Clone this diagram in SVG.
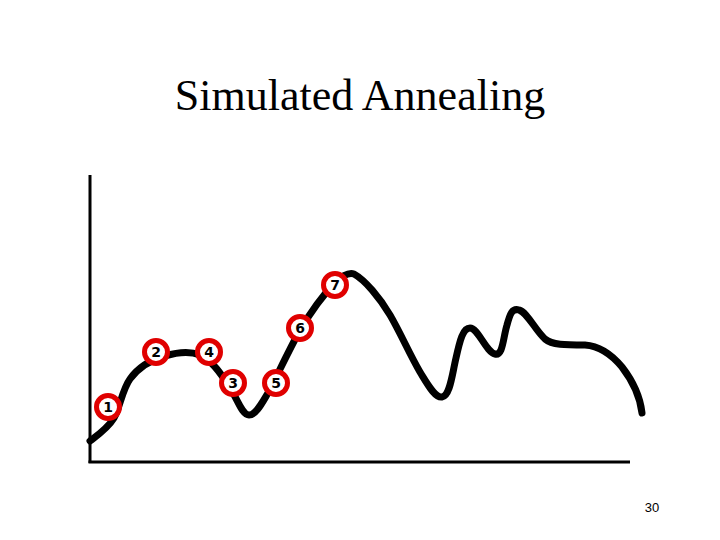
<svg xmlns="http://www.w3.org/2000/svg" width="720" height="540" viewBox="0 0 720 540">
<style>
.axis{stroke:#000;stroke-width:3;fill:none}
.curve{stroke:#000;stroke-width:7;fill:none;stroke-linecap:round;stroke-linejoin:round}
.mark circle{fill:#fff;stroke:#e00000;stroke-width:5}
.mark text{font-family:"DejaVu Sans",sans-serif;font-size:14px;font-weight:bold;fill:#000;text-anchor:middle}
</style>
<rect width="720" height="540" fill="#fff"/>
<text x="360" y="110" font-family="Liberation Serif, serif" font-size="44" text-anchor="middle">Simulated Annealing</text>
<g id="axes">
<line class="axis" x1="90" y1="175" x2="90" y2="463"/>
<line class="axis" x1="88.5" y1="462" x2="630" y2="462"/>
</g>
<g id="connectors">
<path class="curve" d="M90,441 C98,435 108,428 114,418 C120,408 122,390 130,379 C138,368 150,360 165,356 C178,352 190,351 200,355 C212,360 222,375 230,388 C238,400 242,415 249,415 C256,415 262,403 268,393 C276,378 288,352 299,332 C310,313 322,296 335,283 C342,276 348,272 354,274 C365,280 380,298 390,315 C400,332 410,355 420,372 C428,385 435,398 442,397 C450,396 452,375 456,358 C460,340 463,328 470,328 C478,328 486,352 495,354 C503,356 503,338 507,325 C510,314 512,308 519,310 C527,312 535,330 545,339 C552,345 565,345 585,345 C600,346 612,355 622,367 C632,380 640,395 642,413"/>
</g>
<g id="n1" class="mark"><circle cx="108" cy="407" r="11.5"/><text x="108" y="412">1</text></g>
<g id="n2" class="mark"><circle cx="156" cy="352" r="11.5"/><text x="156" y="357">2</text></g>
<g id="n3" class="mark"><circle cx="233" cy="383" r="11.5"/><text x="233" y="388">3</text></g>
<g id="n4" class="mark"><circle cx="209" cy="352" r="11.5"/><text x="209" y="357">4</text></g>
<g id="n5" class="mark"><circle cx="276" cy="383" r="11.5"/><text x="276" y="388">5</text></g>
<g id="n6" class="mark"><circle cx="300" cy="328" r="11.5"/><text x="300" y="333">6</text></g>
<g id="n7" class="mark"><circle cx="335" cy="285" r="11.5"/><text x="335" y="290">7</text></g>
<text x="652" y="512" font-family="Liberation Sans, sans-serif" font-size="13" text-anchor="middle">30</text>
</svg>
